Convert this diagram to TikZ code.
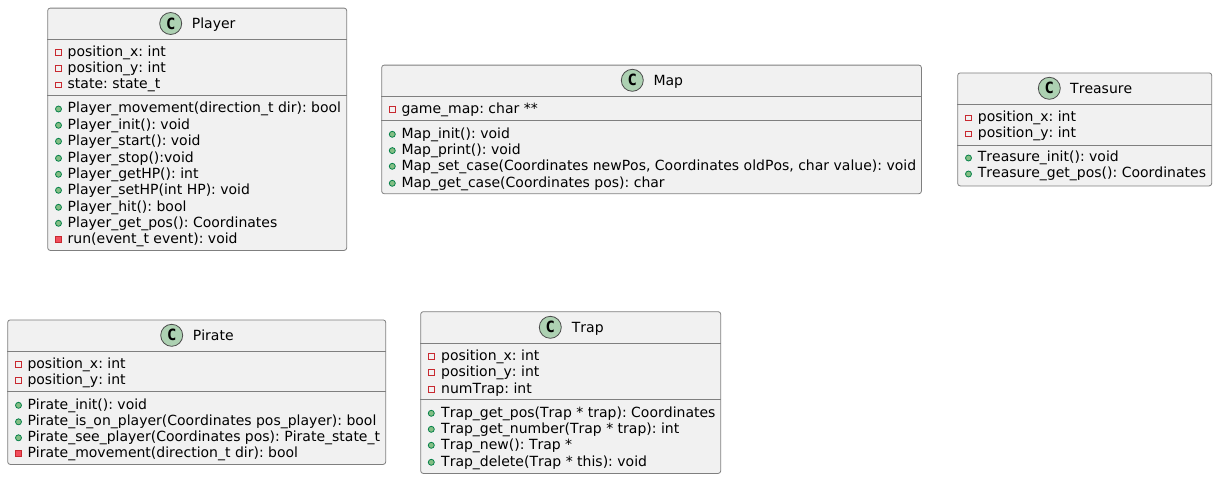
\documentclass[tikz,border=0pt]{standalone}
\usepackage{fontspec}
\setmainfont[Kerning=Off]{DejaVu Sans}
\setmonofont{DejaVu Sans Mono}
\frenchspacing
\definecolor{boxfill}{HTML}{F1F1F1}
\definecolor{boxline}{HTML}{7F7F7F}
\definecolor{iconfill}{HTML}{ADD1B2}
\definecolor{privline}{HTML}{C82930}
\definecolor{privfill}{HTML}{F24D5C}
\definecolor{publine}{HTML}{038048}
\definecolor{pubfill}{HTML}{84BE84}
\tikzset{
	classbox/.style={draw=boxline, fill=boxfill, line width=0.8pt, rounded corners=2.5pt, anchor=north west, inner sep=0pt},
	classline/.style={draw=boxline, line width=0.8pt},
	classicon/.style={circle, draw=black!70, fill=iconfill, line width=0.8pt, minimum size=22pt, inner sep=0pt, font=\fontsize{15.5}{16}\selectfont\ttfamily\bfseries},
	classtitle/.style={anchor=base west, inner sep=0pt, font=\fontsize{14}{16}\selectfont},
	membertext/.style={anchor=base west, inner sep=0pt, font=\fontsize{14}{16}\selectfont},
	privfield/.style={draw=privline, line width=0.8pt, minimum size=5.5pt, inner sep=0pt},
	privmethod/.style={draw=privline, fill=privfill, line width=0.8pt, minimum size=6pt, inner sep=0pt},
	pubmethod/.style={circle, draw=publine, fill=pubfill, line width=0.8pt, minimum size=6pt, inner sep=0pt}
}
\begin{document}
\begin{tikzpicture}[x=1pt, y=-1pt]
	\useasboundingbox (0,0) rectangle (1217,479);
	%Player
	\node[classbox, minimum width=299pt, minimum height=242.3pt] (player) at (47.3,7.7) {};
	\node[classicon] (playericon) at (170.7,23.5) {C};
	\node[classtitle] (playertitle) at (191.7,28.3) {Player};
	\draw[classline] (player.west |- 0,39.5) -- (player.east |- 0,39.5);
	\draw[classline] (player.west |- 0,95) -- (player.east |- 0,95);
	\foreach \rowy/\rowkind/\rowtext [count=\i] in {
		56/privfield/position\_x: int, 72/privfield/position\_y: int, 88.5/privfield/state: state\_t,
		112.7/pubmethod/Player\_movement(direction\_t dir): bool, 129/pubmethod/Player\_init(): void,
		145/pubmethod/Player\_start(): void, 162/pubmethod/Player\_stop():void,
		178/pubmethod/Player\_getHP(): int, 194/pubmethod/Player\_setHP(int HP): void,
		211/pubmethod/Player\_hit(): bool, 227/pubmethod/Player\_get\_pos(): Coordinates,
		243/privmethod/run(event\_t event): void} {
		\node[\rowkind] (playermark\i) at (58.5,\rowy-3.7) {};
		\node[membertext] (playerrow\i) at (67.5,\rowy) {\rowtext};
	}
	%Map
	\node[classbox, minimum width=539.7pt, minimum height=128.6pt] (map) at (381.3,64.7) {};
	\node[classicon] (mapicon) at (632.3,80.3) {C};
	\node[classtitle] (maptitle) at (653.3,85.5) {Map};
	\draw[classline] (map.west |- 0,96.7) -- (map.east |- 0,96.7);
	\draw[classline] (map.west |- 0,120.7) -- (map.east |- 0,120.7);
	\foreach \rowy/\rowkind/\rowtext [count=\i] in {
		113.3/privfield/game\_map: char **,
		138/pubmethod/Map\_init(): void, 154.3/pubmethod/Map\_print(): void,
		170/pubmethod/{Map\_set\_case(Coordinates newPos, Coordinates oldPos, char value): void},
		187/pubmethod/Map\_get\_case(Coordinates pos): char} {
		\node[\rowkind] (mapmark\i) at (392.3,\rowy-3.7) {};
		\node[membertext] (maprow\i) at (401.3,\rowy) {\rowtext};
	}
	%Treasure
	\node[classbox, minimum width=254pt, minimum height=113pt] (treasure) at (957.3,72.5) {};
	\node[classicon] (treasureicon) at (1049.3,88.3) {C};
	\node[classtitle] (treasuretitle) at (1070,93.3) {Treasure};
	\draw[classline] (treasure.west |- 0,104.3) -- (treasure.east |- 0,104.3);
	\draw[classline] (treasure.west |- 0,145.3) -- (treasure.east |- 0,145.3);
	\foreach \rowy/\rowkind/\rowtext [count=\i] in {
		121.7/privfield/position\_x: int, 137.7/privfield/position\_y: int,
		161.7/pubmethod/Treasure\_init(): void, 177.7/pubmethod/Treasure\_get\_pos(): Coordinates} {
		\node[\rowkind] (treasuremark\i) at (968.5,\rowy-3.7) {};
		\node[membertext] (treasurerow\i) at (977.7,\rowy) {\rowtext};
	}
	%Pirate
	\node[classbox, minimum width=378pt, minimum height=144.5pt] (pirate) at (7.3,319.5) {};
	\node[classicon] (pirateicon) at (171.7,335.3) {C};
	\node[classtitle] (piratetitle) at (192.7,340) {Pirate};
	\draw[classline] (pirate.west |- 0,351.5) -- (pirate.east |- 0,351.5);
	\draw[classline] (pirate.west |- 0,391) -- (pirate.east |- 0,391);
	\foreach \rowy/\rowkind/\rowtext [count=\i] in {
		368/privfield/position\_x: int, 384/privfield/position\_y: int,
		409/pubmethod/Pirate\_init(): void, 425.5/pubmethod/Pirate\_is\_on\_player(Coordinates pos\_player): bool,
		441.5/pubmethod/Pirate\_see\_player(Coordinates pos): Pirate\_state\_t,
		457.5/privmethod/Pirate\_movement(direction\_t dir): bool} {
		\node[\rowkind] (piratemark\i) at (18.5,\rowy-3.7) {};
		\node[membertext] (piraterow\i) at (27.3,\rowy) {\rowtext};
	}
	%Trap
	\node[classbox, minimum width=300pt, minimum height=161.7pt] (trap) at (420.3,311.3) {};
	\node[classicon] (trapicon) at (550.3,327.3) {C};
	\node[classtitle] (traptitle) at (571.7,332) {Trap};
	\draw[classline] (trap.west |- 0,343.3) -- (trap.east |- 0,343.3);
	\draw[classline] (trap.west |- 0,399.3) -- (trap.east |- 0,399.3);
	\foreach \rowy/\rowkind/\rowtext [count=\i] in {
		360/privfield/position\_x: int, 376/privfield/position\_y: int, 393/privfield/numTrap: int,
		417/pubmethod/Trap\_get\_pos(Trap * trap): Coordinates, 433/pubmethod/Trap\_get\_number(Trap * trap): int,
		449/pubmethod/Trap\_new(): Trap *, 466/pubmethod/Trap\_delete(Trap * this): void} {
		\node[\rowkind] (trapmark\i) at (431.3,\rowy-3.7) {};
		\node[membertext] (traprow\i) at (441,\rowy) {\rowtext};
	}
\end{tikzpicture}
\end{document}
